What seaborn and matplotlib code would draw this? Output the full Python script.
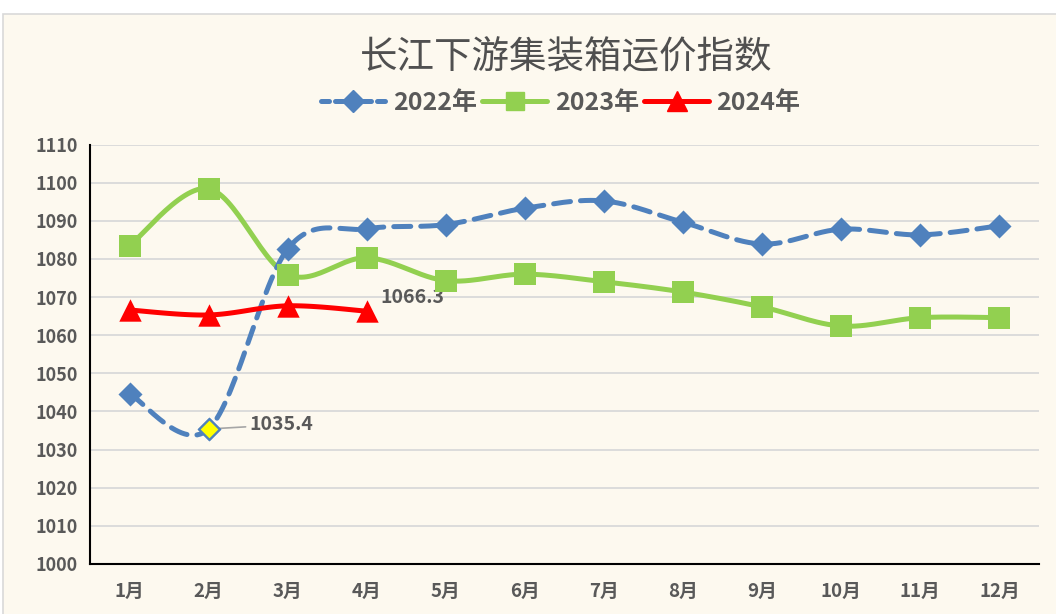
import numpy as np
import matplotlib
matplotlib.use("Agg")
from matplotlib import pyplot as plt
from matplotlib.lines import Line2D
from matplotlib.patches import Rectangle
import seaborn as sns
import pandas as pd

# ---- data ----
months = ["1月", "2月", "3月", "4月", "5月", "6月", "7月", "8月", "9月", "10月", "11月", "12月"]
idx_2022 = [1044.6, 1035.4, 1082.6, 1087.9, 1089.0, 1093.3, 1095.2, 1089.6, 1083.9, 1087.8, 1086.3, 1088.7]
idx_2023 = [1083.5, 1098.4, 1075.9, 1080.3, 1074.3, 1076.0, 1074.0, 1071.3, 1067.4, 1062.4, 1064.6, 1064.6]
idx_2024 = [1066.6, 1065.3, 1067.7, 1066.3]
y_ticks = list(range(1000, 1111, 10))

TXT = "#595959"
BG = "#FDF9EF"
BLUE = "#4F81BD"
GREEN = "#92D050"
RED = "#FF0000"


def smooth(x, y, n=30):
    # excel-like smoothed line: cubic bezier with catmull-rom control points
    x = np.asarray(x, float)
    y = np.asarray(y, float)
    px, py = [], []
    for i in range(len(x) - 1):
        x0, y0 = (x[i - 1], y[i - 1]) if i > 0 else (x[i], y[i])
        x3, y3 = (x[i + 2], y[i + 2]) if i + 2 < len(x) else (x[i + 1], y[i + 1])
        c1x = x[i] + (x[i + 1] - x0) / 6
        c1y = y[i] + (y[i + 1] - y0) / 6
        c2x = x[i + 1] - (x3 - x[i]) / 6
        c2y = y[i + 1] - (y3 - y[i]) / 6
        t = np.linspace(0, 1, n)
        b0, b1, b2, b3 = (1 - t) ** 3, 3 * t * (1 - t) ** 2, 3 * t ** 2 * (1 - t), t ** 3
        px.extend(b0 * x[i] + b1 * c1x + b2 * c2x + b3 * x[i + 1])
        py.extend(b0 * y[i] + b1 * c1y + b2 * c2y + b3 * y[i + 1])
    return px, py


sns.set_theme(style="white")
plt.rcParams["font.family"] = ["Noto Sans CJK SC", "DejaVu Sans"]

df = pd.DataFrame({"month": months, "x": range(len(months)), "2022": idx_2022, "2023": idx_2023})
df24 = df.iloc[:len(idx_2024)].copy()
df24["2024"] = idx_2024

fig = plt.figure(figsize=(10.56, 6.14), dpi=100, facecolor="white")
fig.patches.append(Rectangle((3 / 1056, -0.01), 1.1, 1 - 14 / 614 + 0.01, transform=fig.transFigure,
                             facecolor=BG, edgecolor="#D9D9D9", linewidth=1.2, zorder=-10))
ax = fig.add_axes([90 / 1056, 1 - 564 / 614, (1039 - 90) / 1056, (564 - 144.5) / 614])
ax.set_facecolor(BG)

# smoothed lines
sx, sy = smooth(df["x"], df["2022"])
ax.plot(sx, sy, color=BLUE, lw=3.6, ls=(0, (3.4, 2.0)), dash_capstyle="round", zorder=3)
sx, sy = smooth(df["x"], df["2023"])
ax.plot(sx, sy, color=GREEN, lw=3.6, solid_capstyle="round", zorder=2)
sx, sy = smooth(df24["x"], df24["2024"])
ax.plot(sx, sy, color=RED, lw=3.6, solid_capstyle="round", zorder=4)

# markers
sns.scatterplot(data=df, x="x", y="2022", ax=ax, marker="D", s=150, color=BLUE, linewidth=0, zorder=5)
sns.scatterplot(data=df, x="x", y="2023", ax=ax, marker="s", s=260, color=GREEN, linewidth=0, zorder=5)
sns.scatterplot(data=df24, x="x", y="2024", ax=ax, marker="^", s=260, color=RED, linewidth=0, zorder=6)
# lowest 2022 point highlighted
ax.scatter([1], [idx_2022[1]], marker="D", s=110, color="#FFFF00", edgecolor=BLUE, linewidth=1.5, zorder=7)

ax.annotate(f"{idx_2022[1]:.1f}", xy=(1, idx_2022[1]), xytext=(29, 3), textcoords="offset points",
            fontsize=14, fontweight="bold", color=TXT, va="center", ha="left",
            arrowprops=dict(arrowstyle="-", color="#A6A6A6", lw=1.2, shrinkA=0, shrinkB=6))
ax.annotate(f"{idx_2024[3]:.1f}", xy=(3, idx_2024[3]), xytext=(10, 10), textcoords="offset points",
            fontsize=14, fontweight="bold", color=TXT, va="center", ha="left")

# axes
ax.set_xlim(-0.5, len(months) - 0.5)
ax.set_ylim(1000, 1110)
ax.set_yticks(y_ticks)
ax.set_yticklabels([str(v) for v in y_ticks], fontsize=13, fontweight="bold", color=TXT)
ax.set_xticks(range(len(months)))
ax.set_xticklabels(months, fontsize=13.5, fontweight="bold", color=TXT)
ax.set_xticks(np.arange(-0.5, len(months), 1.0), minor=True)
ax.tick_params(axis="x", which="major", length=0, pad=13)
ax.tick_params(axis="x", which="minor", length=7, width=1.3, direction="in", color="black")
ax.tick_params(axis="y", which="major", length=7, width=1.3, direction="in", color="black", pad=9)
ax.set_xlabel("")
ax.set_ylabel("")
ax.grid(axis="y", color="#D9D9D9", lw=1.3)
ax.set_axisbelow(True)
for s in ["top", "right"]:
    ax.spines[s].set_visible(False)
for s in ["left", "bottom"]:
    ax.spines[s].set_color("black")
    ax.spines[s].set_linewidth(1.5)

fig.text(0.536, 1 - 58 / 614, "长江下游集装箱运价指数", ha="center", va="center",
         fontsize=27, fontweight="medium", color="#505050")

handles = [
    Line2D([], [], color=BLUE, lw=3.6, ls=(0, (1.6, 1.2)), dash_capstyle="round", marker="D", ms=11, mec=BLUE),
    Line2D([], [], color=GREEN, lw=3.6, marker="s", ms=13),
    Line2D([], [], color=RED, lw=3.6, marker="^", ms=14),
]
fig.legend(handles, ["2022年", "2023年", "2024年"], loc="center", bbox_to_anchor=(0.531, 1 - 103 / 614),
           ncol=3, frameon=False, handlelength=2.6, handletextpad=0.3, columnspacing=0.2,
           prop=dict(size=18, weight="bold"), labelcolor=TXT)

fig.savefig("out.png", dpi=100, facecolor=fig.get_facecolor())
